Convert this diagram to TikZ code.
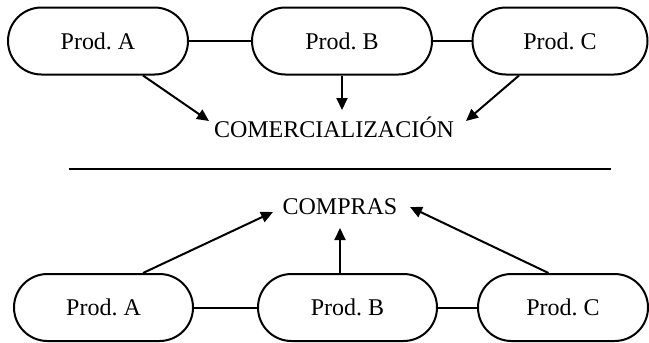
\documentclass[tikz,border=0pt]{standalone}
\usepackage{fontspec}
\setmainfont{Liberation Serif}
\usetikzlibrary{arrows.meta}
\begin{document}
\frenchspacing
\begin{tikzpicture}[x=1pt,y=-1pt,
  line width=2pt,
  font=\fontsize{24}{28}\selectfont,
  prodbox/.style={draw, rounded corners=33.5pt, minimum height=67pt, inner sep=0pt},
  label/.style={inner sep=0pt, anchor=base},
  flow/.style={-{Triangle[length=12pt,width=11pt]}}]
  \useasboundingbox (0,0) rectangle (649,343);

  % upper half: products feeding sales
  \node[prodbox, minimum width=180pt] (A1) at (98,41) {Prod. A};
  \node[prodbox, minimum width=180pt] (B1) at (342,41) {Prod. B};
  \node[prodbox, minimum width=175pt] (C1) at (560,41) {Prod. C};
  \node[label] (com) at (334,137) {COMERCIALIZACIÓN};
  \draw (A1) -- (B1);
  \draw (B1) -- (C1);
  \draw[flow] ([xshift=45pt]A1.south) -- ([xshift=-125pt,yshift=16pt]com.base);
  \draw[flow] (B1.south) -- ([xshift=8pt,yshift=27pt]com.base);
  \draw[flow] ([xshift=-41pt]C1.south) -- ([xshift=132pt,yshift=16pt]com.base);

  % separator
  \coordinate (s1) at (69,169);
  \coordinate (s2) at (611,169);
  \draw (s1) -- (s2);

  % lower half: purchases feeding products
  \node[prodbox, minimum width=179pt] (A2) at (103.5,307.5) {Prod. A};
  \node[prodbox, minimum width=179pt] (B2) at (347.5,307.5) {Prod. B};
  \node[prodbox, minimum width=170pt] (C2) at (563,307.5) {Prod. C};
  \node[label] (cmp) at (340,214) {COMPRAS};
  \draw (A2) -- (B2);
  \draw (B2) -- (C2);
  \draw[flow] ([xshift=39.5pt]A2.north) -- ([xshift=-67pt,yshift=2pt]cmp.base);
  \draw[flow] ([xshift=-7.5pt]B2.north) -- ([yshift=-14pt]cmp.base);
  \draw[flow] ([xshift=-14.5pt]C2.north) -- ([xshift=70pt,yshift=7pt]cmp.base);
\end{tikzpicture}
\end{document}
